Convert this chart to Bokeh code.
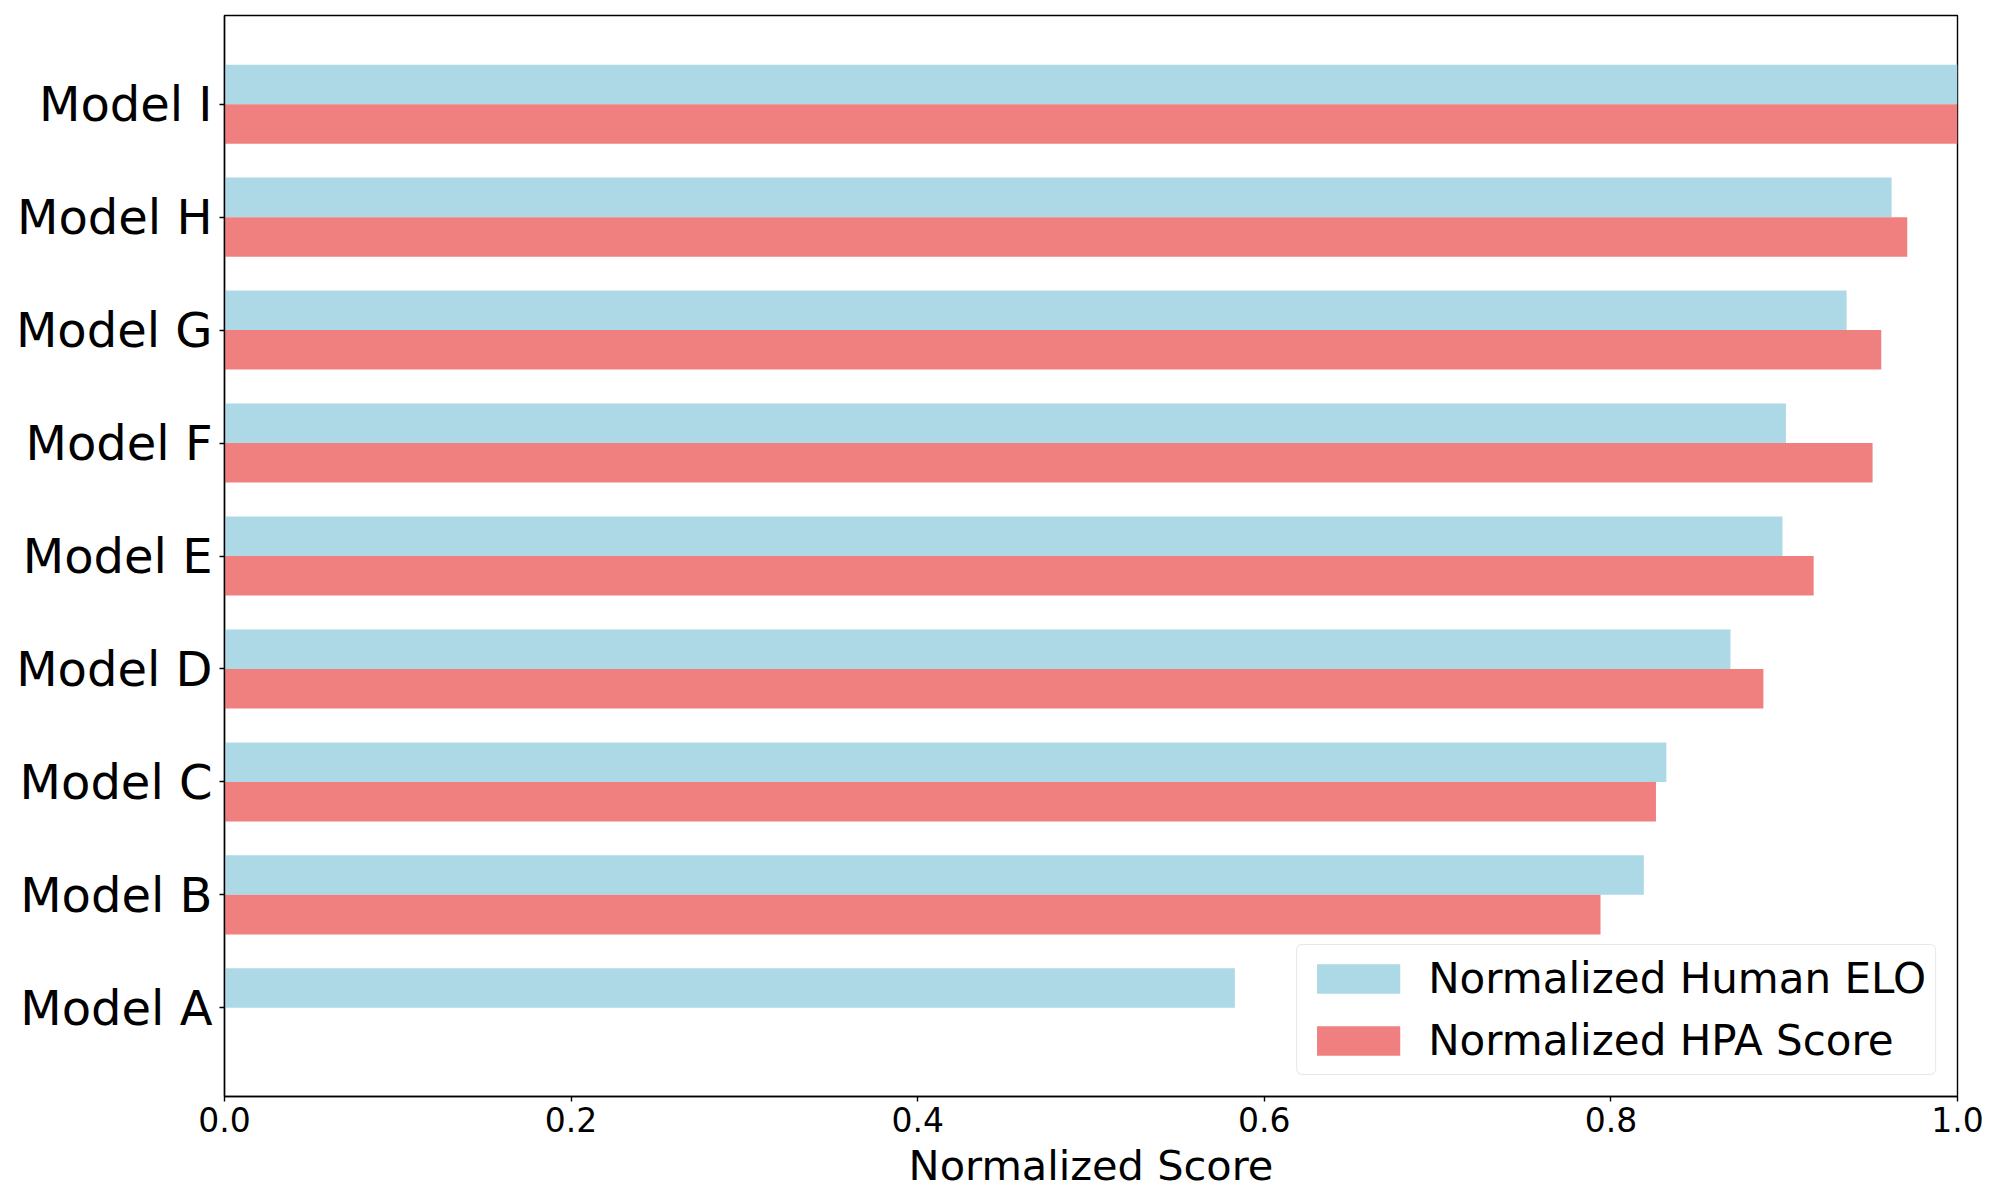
from bokeh.plotting import figure
from bokeh.models import Range1d, FixedTicker, NumeralTickFormatter, Legend, LegendItem
from bokeh.embed import file_html
from bokeh.resources import INLINE

# ---- data ----
models = ["Model A", "Model B", "Model C", "Model D", "Model E",
          "Model F", "Model G", "Model H", "Model I"]
human_elo = [0.583, 0.819, 0.832, 0.869, 0.899, 0.901, 0.936, 0.962, 1.0]
hpa_score = [0.0, 0.794, 0.826, 0.888, 0.917, 0.951, 0.956, 0.971, 1.0]
x_ticks = [0.0, 0.2, 0.4, 0.6, 0.8, 1.0]

BLUE = "#ADD8E6"
RED = "#F08080"
FONT = "DejaVu Sans"
bar_h = 0.35

idx = list(range(len(models)))
y_blue = [i + bar_h / 2 for i in idx]
y_red = [i - bar_h / 2 for i in idx]

p = figure(width=1984, height=1192, output_backend="svg", toolbar_location=None,
           x_range=Range1d(0, 1.0), y_range=Range1d(-0.785, len(models) - 1 + 0.785),
           min_border_left=224, min_border_right=27, min_border_top=15, min_border_bottom=96)

r_blue = p.hbar(y=y_blue, left=0, right=human_elo, height=bar_h,
                fill_color=BLUE, line_color=None)
r_red = p.hbar(y=y_red, left=0, right=hpa_score, height=bar_h,
               fill_color=RED, line_color=None)

p.xgrid.visible = False
p.ygrid.visible = False
p.outline_line_color = "black"
p.outline_line_width = 1.4
p.background_fill_color = "white"
p.border_fill_color = "white"

# x axis
xa = p.xaxis[0]
xa.ticker = FixedTicker(ticks=x_ticks)
xa.formatter = NumeralTickFormatter(format="0.0")
xa.axis_label = "Normalized Score"
xa.axis_label_text_font = FONT
xa.axis_label_text_font_size = "41.5px"
xa.axis_label_text_font_style = "normal"
xa.axis_label_text_color = "black"
xa.axis_label_standoff = 6
xa.major_label_text_font = FONT
xa.major_label_text_font_size = "33px"
xa.major_label_text_color = "black"
xa.major_label_standoff = 5
xa.major_tick_out = 5
xa.major_tick_in = 0
xa.minor_tick_out = 0
xa.minor_tick_in = 0
xa.axis_line_color = "black"
xa.axis_line_width = 1.4
xa.major_tick_line_color = "black"
xa.major_tick_line_width = 1.4

# y axis
ya = p.yaxis[0]
ya.ticker = FixedTicker(ticks=idx)
ya.major_label_overrides = {i: m for i, m in zip(idx, models)}
ya.major_label_text_font = FONT
ya.major_label_text_font_size = "48px"
ya.major_label_text_color = "black"
ya.major_label_standoff = 7
ya.major_tick_out = 5
ya.major_tick_in = 0
ya.minor_tick_out = 0
ya.minor_tick_in = 0
ya.axis_line_color = "black"
ya.axis_line_width = 1.4
ya.major_tick_line_color = "black"
ya.major_tick_line_width = 1.4

legend = Legend(items=[LegendItem(label="Normalized Human ELO", renderers=[r_blue]),
                       LegendItem(label="Normalized HPA Score", renderers=[r_red])],
                location="bottom_right")
legend.label_text_font = FONT
legend.label_text_font_size = "42px"
legend.label_text_color = "black"
legend.glyph_width = 104
legend.glyph_height = 37
legend.label_height = 40
legend.label_standoff = 18
legend.spacing = 13
legend.padding = 9
legend.margin = 21
legend.border_line_color = "#d0d0d0"
legend.border_line_width = 1.5
legend.background_fill_color = "white"
legend.background_fill_alpha = 0.8
try:
    legend.border_radius = 6
except AttributeError:
    pass
p.add_layout(legend)

open("out.html", "w").write(file_html(p, INLINE))
